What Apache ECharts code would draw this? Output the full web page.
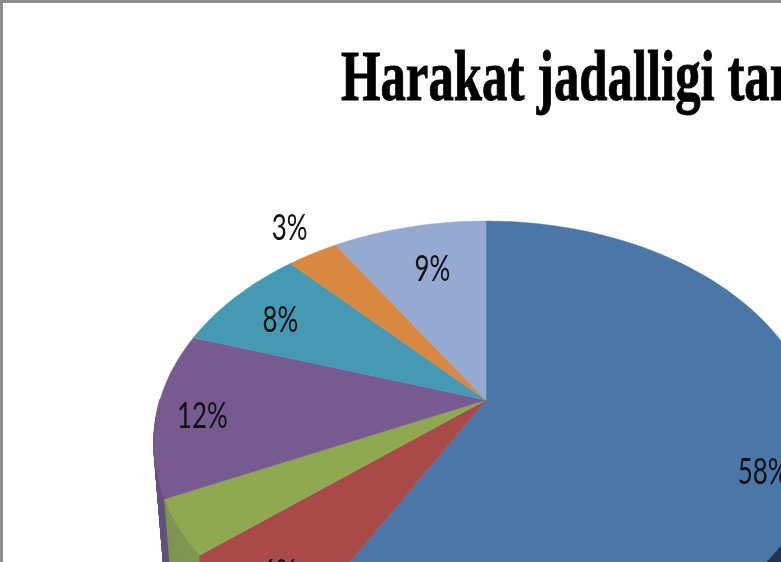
<!DOCTYPE html>
<html><head><meta charset="utf-8">
<style>html,body{margin:0;padding:0;background:#fff;overflow:hidden}#c{width:781px;height:562px}</style>
<script src="https://cdn.jsdelivr.net/npm/echarts@6/dist/echarts.min.js"></script>
</head><body><div id="c"></div>
<script>
// Data
var titleText = 'Harakat jadalligi tar';
var sliceNames = ['a','b','c','d','e','f','g'];
var sliceValues = [58, 6, 4, 12, 8, 3, 9];
var topColors = ['#4a76a8','#aa4a48','#8ea950','#775a8f','#4699b3','#d88841','#95a9d1'];
var sideColors = ['#1f3553','#aa4a48','#7f9550','#64507f','#32707f','#9c622e','#6b7a96'];
// Label nudges from the slice's 70% radius point; null = label not visible in the picture
var labelNudges = [[45,33],[-36,38],null,[-53,7],[-31,-7],[-75,-69],[0,-10]];

// Perspective pie projection
var CX=486, CY=400, A=326, B=213.5, K=0.193, DEPTH=140, SHRINK=0.035;
function proj(t, r){
  var s=Math.sin(t), c=Math.cos(t), w=1+K*c;
  return [CX+r*A*s/w, CY-r*B*c/w];
}
var total = sliceValues.reduce(function(a,b){return a+b;},0);
function angles(i){
  var before = sliceValues.slice(0,i).reduce(function(a,b){return a+b;},0);
  return [before/total*2*Math.PI, (before+sliceValues[i])/total*2*Math.PI];
}
function stepAngles(t0,t1){
  var n=Math.max(2,Math.ceil((t1-t0)/(Math.PI/180))), out=[];
  for(var j=0;j<=n;j++){ out.push(t0+(t1-t0)*j/n); }
  return out;
}
function renderSide(params, api){
  var i=api.value(1), a=angles(i), ts=stepAngles(a[0],a[1]), quads=[];
  for(var j=0;j<ts.length-1;j++){
    if(Math.cos(ts[j])>0 && Math.cos(ts[j+1])>0){ continue; } // back of the pie is hidden
    var p0=proj(ts[j],1), p1=proj(ts[j+1],1), q0=proj(ts[j],1-SHRINK), q1=proj(ts[j+1],1-SHRINK);
    quads.push({type:'polygon',shape:{points:[p0,p1,[q1[0],q1[1]+DEPTH],[q0[0],q0[1]+DEPTH]]},
      style:{fill:sideColors[i],stroke:sideColors[i],lineWidth:1}});
  }
  return {type:'group',children:quads};
}
function renderTop(params, api){
  var i=api.value(1), a=angles(i);
  var pts=[[CX,CY]].concat(stepAngles(a[0],a[1]).map(function(t){return proj(t,1);}));
  var children=[{type:'polygon',shape:{points:pts},
    style:{fill:topColors[i],stroke:topColors[i],lineWidth:0.5}}];
  var n=labelNudges[i];
  if(n){
    var p=proj((a[0]+a[1])/2,0.7);
    children.push({type:'text',x:p[0]+n[0],y:p[1]+n[1],scaleX:0.7,z2:10,
      style:{text:api.value(0)+'%',font:'37px Lato',fill:'#111',align:'center',verticalAlign:'middle'}});
  }
  return {type:'group',children:children};
}
var seriesData = sliceValues.map(function(v,i){return {name:sliceNames[i],value:[v,i]};});
var chart=echarts.init(document.getElementById('c'),null,{renderer:'canvas'});
chart.setOption({
  animation:false,
  backgroundColor:'#fff',
  series:[
    {type:'custom',coordinateSystem:'none',z:1,silent:true,renderItem:renderSide,data:seriesData.slice().reverse()},
    {type:'custom',coordinateSystem:'none',z:2,silent:true,renderItem:renderTop,data:seriesData}
  ],
  graphic:[
    {type:'rect',silent:true,z:20,shape:{x:0,y:0,width:781,height:3},style:{fill:'#8c8c8c'}},
    {type:'rect',silent:true,z:20,shape:{x:0,y:0,width:3,height:562},style:{fill:'#8c8c8c'}},
    {type:'text',silent:true,z:20,x:341,y:82,scaleX:0.715,
      style:{text:titleText,font:'bold 71px "Liberation Serif"',fill:'#000',stroke:'#000',lineWidth:1,align:'left',verticalAlign:'middle'}}
  ]
});
</script></body></html>
